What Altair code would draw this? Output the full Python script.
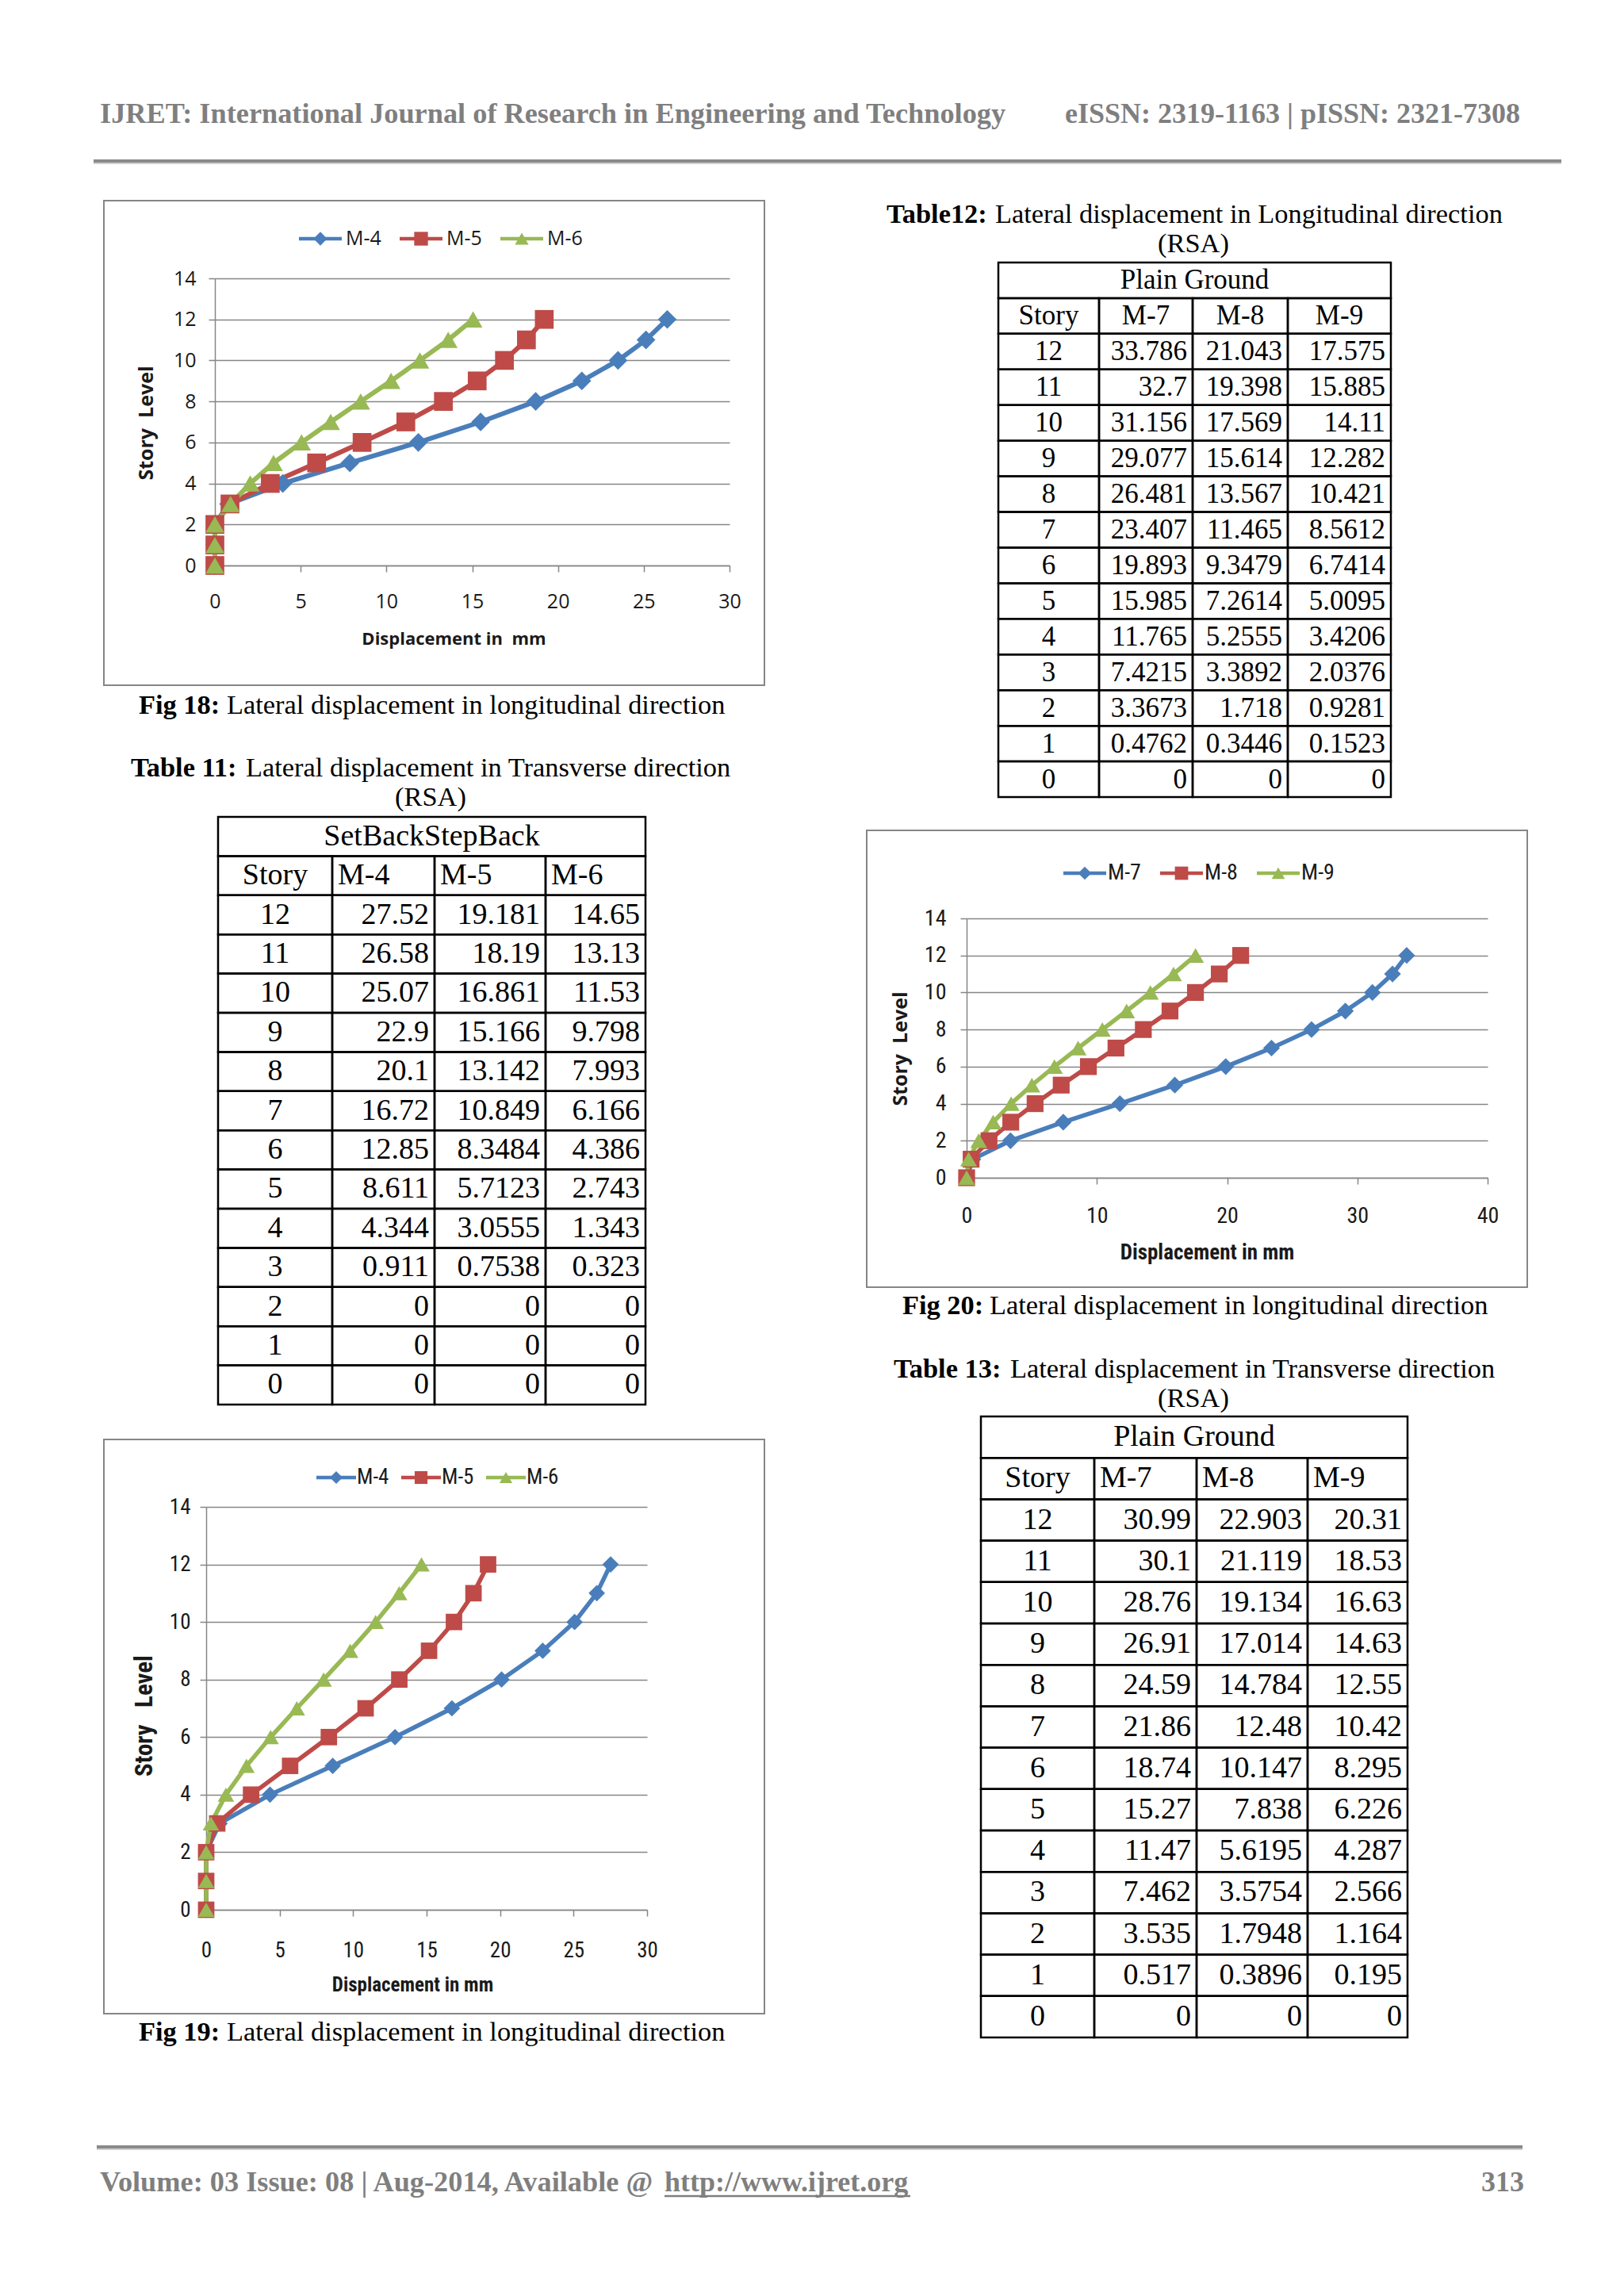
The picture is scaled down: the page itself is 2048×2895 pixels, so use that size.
import altair as alt
import pandas as pd

# ------------------------------------------------------------------ data
stories = [12, 11, 10, 9, 8, 7, 6, 5, 4, 3, 2, 1, 0]

series_a = ["M-4", "M-5", "M-6"]
series_b = ["M-7", "M-8", "M-9"]

# Fig 18
fig18_m4 = [26.37, 25.13, 23.50, 21.39, 18.70, 15.49, 11.86, 7.87, 3.96, 0.80, 0, 0, 0]
fig18_m5 = [19.20, 18.16, 16.88, 15.29, 13.32, 11.13, 8.58, 5.93, 3.23, 0.88, 0, 0, 0]
fig18_m6 = [15.05, 13.60, 11.95, 10.27, 8.50, 6.75, 5.05, 3.42, 2.06, 0.91, 0, 0, 0]

# Table 11 (also plotted in Fig 19)
t11_m4 = [27.52, 26.58, 25.07, 22.9, 20.1, 16.72, 12.85, 8.611, 4.344, 0.911, 0, 0, 0]
t11_m5 = [19.181, 18.19, 16.861, 15.166, 13.142, 10.849, 8.3484, 5.7123, 3.0555, 0.7538, 0, 0, 0]
t11_m6 = [14.65, 13.13, 11.53, 9.798, 7.993, 6.166, 4.386, 2.743, 1.343, 0.323, 0, 0, 0]

# Table 12 (also plotted in Fig 20)
t12_m7 = [33.786, 32.7, 31.156, 29.077, 26.481, 23.407, 19.893, 15.985, 11.765, 7.4215, 3.3673, 0.4762, 0]
t12_m8 = [21.043, 19.398, 17.569, 15.614, 13.567, 11.465, 9.3479, 7.2614, 5.2555, 3.3892, 1.718, 0.3446, 0]
t12_m9 = [17.575, 15.885, 14.11, 12.282, 10.421, 8.5612, 6.7414, 5.0095, 3.4206, 2.0376, 0.9281, 0.1523, 0]

# Table 13
t13_m7 = [30.99, 30.1, 28.76, 26.91, 24.59, 21.86, 18.74, 15.27, 11.47, 7.462, 3.535, 0.517, 0]
t13_m8 = [22.903, 21.119, 19.134, 17.014, 14.784, 12.48, 10.147, 7.838, 5.6195, 3.5754, 1.7948, 0.3896, 0]
t13_m9 = [20.31, 18.53, 16.63, 14.63, 12.55, 10.42, 8.295, 6.226, 4.287, 2.566, 1.164, 0.195, 0]

x_ticks_30 = [0, 5, 10, 15, 20, 25, 30]
x_ticks_40 = [0, 10, 20, 30, 40]
y_ticks = [0, 2, 4, 6, 8, 10, 12, 14]

header_left = "IJRET: International Journal of Research in Engineering and Technology"
header_right = "eISSN: 2319-1163 | pISSN: 2321-7308"
footer_left = "Volume: 03 Issue: 08 | Aug-2014, Available @"
footer_link = "http://www.ijret.org"
footer_page = "313"

cap18 = ["Fig 18:", "Lateral displacement in longitudinal direction"]
cap19 = ["Fig 19:", "Lateral displacement in longitudinal direction"]
cap20 = ["Fig 20:", "Lateral displacement in longitudinal direction"]
tt11 = ["Table 11:", "Lateral displacement in Transverse direction"]
tt12 = ["Table12:", "Lateral displacement in Longitudinal direction"]
tt13 = ["Table 13:", "Lateral displacement in Transverse direction"]
rsa = "(RSA)"
group11 = "SetBackStepBack"
group12 = "Plain Ground"
group13 = "Plain Ground"
story_head = "Story"

xtitle18 = "Displacement in\u00a0 mm"
xtitle19 = "Displacement in mm"
xtitle20 = "Displacement in mm"
ytitle18 = "Story\u00a0 Level"
ytitle19 = "Story\u00a0\u00a0 Level"
ytitle20 = "Story\u00a0 Level"

# ------------------------------------------------------------------ styling
W, H = 2032, 2879
M = 8


def P(v):
    return v - M


BLUE, RED, GREEN = "#4A7EBB", "#BE4B48", "#98B954"
GRAY = "#868686"
INK = "#1a1a1a"
HEAD_GRAY = "#7f7f7f"
SERIF = "Liberation Serif, Times New Roman, serif"
SANS = "Open Sans, Liberation Sans, sans-serif"
NARROW = "Liberation Sans Narrow, Arial Narrow, Roboto Condensed, Liberation Sans, sans-serif"

single = pd.DataFrame({"k": [0]})


def label(txt, x, y, size, weight="normal", align="left", color="black", font=SERIF):
    return alt.Chart(single).mark_text(
        text=txt, font=font, fontSize=size, fontWeight=weight, align=align,
        baseline="middle", color=color
    ).encode(x=alt.value(P(x)), y=alt.value(P(y)))


def hrule(x0, x1, y, width, color):
    return alt.Chart(single).mark_rule(strokeWidth=width, color=color).encode(
        x=alt.value(P(x0)), x2=alt.value(P(x1)), y=alt.value(P(y)))


def frame(x0, x1, y0, y1):
    return alt.Chart(single).mark_rect(fillOpacity=0, stroke=GRAY, strokeWidth=2).encode(
        x=alt.value(P(x0)), x2=alt.value(P(x1)), y=alt.value(P(y0)), y2=alt.value(P(y1)))


def figure(names, values, c):
    rows = []
    for name, vals in zip(names, values):
        for s, v in zip(stories, vals):
            rows.append({"series": name, "story": s, "disp": v})
    df = pd.DataFrame(rows)
    xr, yr = c["xr"], c["yr"]
    xs = alt.Scale(domain=[0, c["xmax"]], range=[P(xr[0]), P(xr[1])], nice=False, zero=False)
    ys = alt.Scale(domain=[0, 14], range=[P(yr[0]), P(yr[1])], nice=False, zero=False)
    cs = alt.Scale(domain=names, range=[BLUE, RED, GREEN])
    ss = alt.Scale(domain=names, range=["diamond", "square", "triangle-up"])

    xaxis = alt.Axis(
        orient="bottom", offset=P(yr[0]) - H, values=c["xticks"], grid=False,
        domainColor=GRAY, domainWidth=1.5, tickColor=GRAY, tickWidth=1.5, tickSize=8,
        labelFont=c["font"], labelFontSize=c["fs"], labelColor=INK, labelPadding=c["xlp"],
        labelFlush=False, labelOverlap=False,
        title=c["xtitle"], titleFont=c["tfont"], titleFontSize=c["tfs"], titleFontWeight="bold",
        titleColor=INK, titleX=P(c["xt"][0]), titleY=c["xt"][1] - yr[0],
        titleBaseline="middle", titleAlign="center")
    yaxis = alt.Axis(
        orient="left", offset=-P(xr[0]), values=y_ticks, grid=True, gridColor=GRAY, gridWidth=1.5,
        domainColor=GRAY, domainWidth=1.5, tickColor=GRAY, tickWidth=1.5, tickSize=8,
        labelFont=c["font"], labelFontSize=c["fs"], labelColor=INK, labelPadding=c["ylp"],
        labelFlush=False, labelOverlap=False,
        title=c["ytitle"], titleFont=c["ytfont"], titleFontSize=c["ytfs"], titleFontWeight="bold",
        titleColor=INK, titleAngle=270, titleX=c["yt"][0] - xr[0], titleY=P(c["yt"][1]),
        titleBaseline="middle", titleAlign="center")

    line = alt.Chart(df).mark_line(strokeWidth=c["lw"]).encode(
        x=alt.X("disp:Q", scale=xs, axis=xaxis),
        y=alt.Y("story:Q", scale=ys, axis=yaxis),
        color=alt.Color("series:N", scale=cs, legend=None),
        order=alt.Order("story:Q"))
    pts = alt.Chart(df).mark_point(filled=True, opacity=1, size=c["ms"]).encode(
        x=alt.X("disp:Q", scale=xs, axis=None),
        y=alt.Y("story:Q", scale=ys, axis=None),
        color=alt.Color("series:N", scale=cs, legend=None),
        shape=alt.Shape("series:N", scale=ss, legend=None))

    leg = pd.DataFrame({"series": names})
    lx = alt.Scale(type="point", domain=names, range=[P(c["lc"][0]), P(c["lc"][1])], padding=0)
    ly = alt.value(P(c["ly"]))
    legline = alt.Chart(leg).mark_point(
        shape="M-1,0L1,0", size=(2 * c["lhalf"]) ** 2, strokeWidth=4.5, filled=False, opacity=1
    ).encode(x=alt.X("series:N", scale=lx, axis=None), y=ly,
             color=alt.Color("series:N", scale=cs, legend=None))
    legmark = alt.Chart(leg).mark_point(filled=True, opacity=1, size=c["lms"]).encode(
        x=alt.X("series:N", scale=lx, axis=None), y=ly,
        color=alt.Color("series:N", scale=cs, legend=None),
        shape=alt.Shape("series:N", scale=ss, legend=None))
    legtext = alt.Chart(leg).mark_text(
        align="left", baseline="middle", dx=c["ldx"], font=c["font"], fontSize=c["lfs"], color=INK
    ).encode(x=alt.X("series:N", scale=lx, axis=None), y=ly, text="series:N")

    b = c["box"]
    return [frame(b[0], b[1], b[2], b[3]), line, pts, legline, legmark, legtext]


def table(c, group_title, head_names, col_vals):
    edges = c["edges"]
    cells = [{"r": 0, "c0": 0, "c1": 4}]
    for r in range(1, 15):
        for k in range(4):
            cells.append({"r": r, "c0": k, "c1": k + 1})
    cdf = pd.DataFrame(cells)
    cdf["r1"] = cdf["r"] + 1
    xs = alt.Scale(domain=[0, 1, 2, 3, 4], range=[P(e) for e in edges], nice=False, zero=False)
    xlin = alt.Scale(domain=[0, 4], range=[P(edges[0]), P(edges[4])], nice=False, zero=False)
    ys = alt.Scale(domain=[0, 15], range=[P(c["top"]), P(c["bottom"])], nice=False, zero=False)

    rect = alt.Chart(cdf).mark_rect(fillOpacity=0, stroke="black", strokeWidth=2.5).encode(
        x=alt.X("c0:Q", scale=xs, axis=None), x2=alt.X2("c1"),
        y=alt.Y("r:Q", scale=ys, axis=None), y2=alt.Y2("r1"))

    tx = [{"t": group_title, "c": 0, "r": 0, "kind": "title"},
          {"t": story_head, "c": 0, "r": 1, "kind": "center"}]
    for i, n in enumerate(head_names):
        tx.append({"t": n, "c": i + 1, "r": 1, "kind": "center" if c["head_center"] else "head"})
    for j, s in enumerate(stories):
        tx.append({"t": str(s), "c": 0, "r": j + 2, "kind": "center"})
        for i, vals in enumerate(col_vals):
            tx.append({"t": f"{vals[j]:g}", "c": i + 1, "r": j + 2, "kind": "value"})
    tdf = pd.DataFrame(tx)

    def txt(kind, xexpr, scale, align, dx):
        return alt.Chart(tdf).transform_filter(alt.datum.kind == kind).transform_calculate(
            xp=xexpr, yp="datum.r + 0.5"
        ).mark_text(font=SERIF, fontSize=c["fs"], align=align, baseline="middle", dx=dx,
                    color="black").encode(
            x=alt.X("xp:Q", scale=scale, axis=None),
            y=alt.Y("yp:Q", scale=ys, axis=None),
            text="t:N")

    return [rect,
            txt("title", "datum.c + 2", xlin, "center", 0),
            txt("center", "datum.c + 0.5", xs, "center", 0),
            txt("head", "datum.c", xs, "left", 7),
            txt("value", "datum.c + 1", xs, "right", -7)]


# ------------------------------------------------------------------ layout
cfg18 = dict(xr=(271, 920), yr=(713, 351), box=(131, 964, 253, 864), xmax=30, xticks=x_ticks_30,
             font=SANS, fs=25, xlp=25, ylp=16, tfont=SANS, tfs=22, xtitle=xtitle18, xt=(572, 805),
             ytitle=ytitle18, yt=(184, 533), ytfont=SANS, ytfs=25,
             ly=301, lc=(404, 658), lhalf=27, ldx=32, lfs=25, lms=300, ms=560, lw=6)
cfg19 = dict(xr=(260, 816), yr=(2408, 1900), box=(131, 964, 1815, 2539), xmax=30, xticks=x_ticks_30,
             font=NARROW, fs=27, xlp=30, ylp=12, tfont=NARROW, tfs=25, xtitle=xtitle19, xt=(520, 2502),
             ytitle=ytitle19, yt=(182, 2163), ytfont=NARROW, ytfs=31,
             ly=1863, lc=(424, 638), lhalf=25, ldx=26, lfs=27, lms=260, ms=430, lw=5.5)
cfg20 = dict(xr=(1219, 1876), yr=(1485, 1158), box=(1093, 1926, 1047, 1623), xmax=40, xticks=x_ticks_40,
             font=NARROW, fs=28, xlp=26, ylp=18, tfont=NARROW, tfs=27, xtitle=xtitle20, xt=(1522, 1579),
             ytitle=ytitle20, yt=(1135, 1322), ytfont=SANS, ytfs=25,
             ly=1101, lc=(1368, 1612), lhalf=27, ldx=29, lfs=28, lms=280, ms=450, lw=5.5)

tcfg11 = dict(top=1030, bottom=1771, edges=[275, 419, 548, 688, 814], fs=38, head_center=False)
tcfg12 = dict(top=331, bottom=1005, edges=[1259, 1386, 1504, 1624, 1754], fs=35, head_center=True)
tcfg13 = dict(top=1786, bottom=2569, edges=[1237, 1380, 1509, 1649, 1775], fs=38, head_center=False)

CAP = 34.4
layers = []
# header / footer
layers += [
    label(header_left, 126, 144, 36.3, "bold", "left", HEAD_GRAY),
    label(header_right, 1917, 144, 36, "bold", "right", HEAD_GRAY),
    hrule(118, 1969, 203, 4, "#8a8a8a"),
    hrule(118, 1969, 206, 2, "#d0d0d0"),
    hrule(122, 1920, 2707, 4, "#8a8a8a"),
    hrule(122, 1920, 2710, 2, "#d0d0d0"),
    label(footer_left, 126, 2752, 36.3, "bold", "left", HEAD_GRAY),
    label(footer_link, 838, 2752, 36, "bold", "left", HEAD_GRAY),
    hrule(838, 1148, 2769, 2.5, HEAD_GRAY),
    label(footer_page, 1922, 2752, 36, "bold", "right", HEAD_GRAY),
]
# figures
layers += figure(series_a, [fig18_m4, fig18_m5, fig18_m6], cfg18)
layers += figure(series_a, [t11_m4, t11_m5, t11_m6], cfg19)
layers += figure(series_b, [t12_m7, t12_m8, t12_m9], cfg20)
# captions
for cap, bx, rx, y in [(cap18, 175, 286, 890), (cap19, 175, 286, 2563), (cap20, 1138, 1248, 1647)]:
    layers += [label(cap[0], bx, y, CAP, "bold"), label(cap[1], rx, y, CAP)]
# table titles
for tt, bx, rx, y, cx in [(tt11, 165, 310, 969, 543), (tt12, 1118, 1255, 271, 1505),
                          (tt13, 1127, 1274, 1727, 1505)]:
    layers += [label(tt[0], bx, y, CAP, "bold"), label(tt[1], rx, y, CAP),
               label(rsa, cx, y + 37, CAP, "normal", "center")]
# tables
layers += table(tcfg11, group11, series_a, [t11_m4, t11_m5, t11_m6])
layers += table(tcfg12, group12, series_b, [t12_m7, t12_m8, t12_m9])
layers += table(tcfg13, group13, series_b, [t13_m7, t13_m8, t13_m9])

chart = alt.layer(*layers).resolve_scale(
    x="independent", y="independent", color="independent", shape="independent"
).properties(
    width=W, height=H, autosize=alt.AutoSizeParams(type="none"), padding=0, background="white"
).configure_view(stroke="transparent")

chart.save("out.html", embed_options={"renderer": "svg", "actions": False})
